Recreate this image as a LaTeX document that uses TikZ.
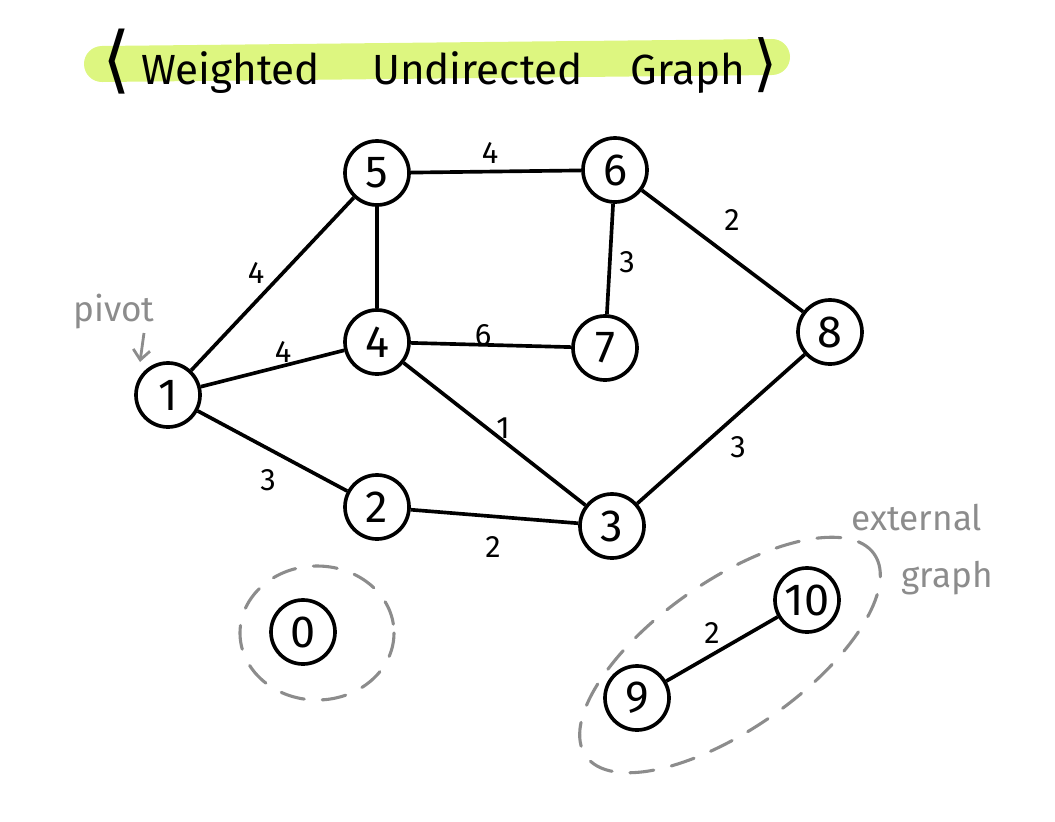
\documentclass[tikz,border=0pt]{standalone}
\usepackage{fontspec}
\setmainfont{Fira Sans}
\newfontfamily\symfont{DejaVu Sans}
\usetikzlibrary{arrows.meta}
\definecolor{marker}{RGB}{221,246,128}
\definecolor{pencil}{RGB}{140,140,140}
\begin{document}
\begin{tikzpicture}[x=0.025cm,y=-0.025cm,
    vertex/.style={circle,draw,line width=2.6pt,minimum size=1.6cm,inner sep=0pt,
        font=\fontsize{32}{32}\selectfont},
    weight/.style={font=\fontsize{22}{22}\selectfont},
    note/.style={text=pencil,font=\fontsize{25}{25}\selectfont},
    ring/.style={draw=pencil,line width=2.2pt,dash pattern=on 0.6cm off 0.45cm,line cap=round}]
    \useasboundingbox (0,0) rectangle (1055,822);
    % title with marker stroke
    \draw[marker,line width=0.9cm,line cap=round] (102,64) -- (772,57);
    \node (title) at (440,62) {\fontsize{30}{30}\selectfont
        {\symfont\fontsize{52}{52}\selectfont ⟨}\hspace{0.25cm}Weighted\hspace{1.3cm}Undirected\hspace{1.2cm}Graph\hspace{0.2cm}{\symfont\fontsize{44}{44}\selectfont ⟩}};
    % vertices
    \node[vertex] (v0) at (303,632) {0};
    \node[vertex] (v1) at (168,395) {1};
    \node[vertex] (v2) at (377,507) {2};
    \node[vertex] (v3) at (612,526) {3};
    \node[vertex] (v4) at (377,342) {4};
    \node[vertex] (v5) at (377,173) {5};
    \node[vertex] (v6) at (615,170) {6};
    \node[vertex] (v7) at (605,348) {7};
    \node[vertex] (v8) at (830,332) {8};
    \node[vertex] (v9) at (637,698) {9};
    \node[vertex] (v10) at (807,600) {10};
    % edges
    \draw[line width=2.6pt] (v1) -- (v5);
    \draw[line width=2.6pt] (v1) -- (v4);
    \draw[line width=2.6pt] (v1) -- (v2);
    \draw[line width=2.6pt] (v5) -- (v6);
    \draw[line width=2.6pt] (v5) -- (v4);
    \draw[line width=2.6pt] (v6) -- (v7);
    \draw[line width=2.6pt] (v6) -- (v8);
    \draw[line width=2.6pt] (v4) -- (v7);
    \draw[line width=2.6pt] (v4) -- (v3);
    \draw[line width=2.6pt] (v2) -- (v3);
    \draw[line width=2.6pt] (v3) -- (v8);
    \draw[line width=2.6pt] (v9) -- (v10);
    % weights
    \node[weight] (w15) at (256,273) {4};
    \node[weight] (w14) at (283,352) {4};
    \node[weight] (w12) at (268,480) {3};
    \node[weight] (w56) at (490,153) {4};
    \node[weight] (w67) at (627,262) {3};
    \node[weight] (w68) at (732,220) {2};
    \node[weight] (w47) at (483,335) {6};
    \node[weight] (w43) at (503,428) {1};
    \node[weight] (w23) at (493,547) {2};
    \node[weight] (w38) at (738,447) {3};
    \node[weight] (w910) at (712,633) {2};
    % notes
    \node[note] (pivot) at (114,312) {pivot};
    \coordinate (pivotfrom) at (144,333);
    \coordinate (pivotto) at (140,362);
    \draw[pencil,line width=2pt,-{Straight Barb[length=7pt,width=12pt]}] (pivotfrom) -- (pivotto);
    \draw[ring] (317,633) ellipse [x radius=77, y radius=67];
    \draw[ring,rotate around={35:(730,655)}] (730,655) ellipse [x radius=176, y radius=74];
    \node[note] (external) at (917,518) {external};
    \node[note] (graph) at (947,578) {graph};
\end{tikzpicture}
\end{document}
